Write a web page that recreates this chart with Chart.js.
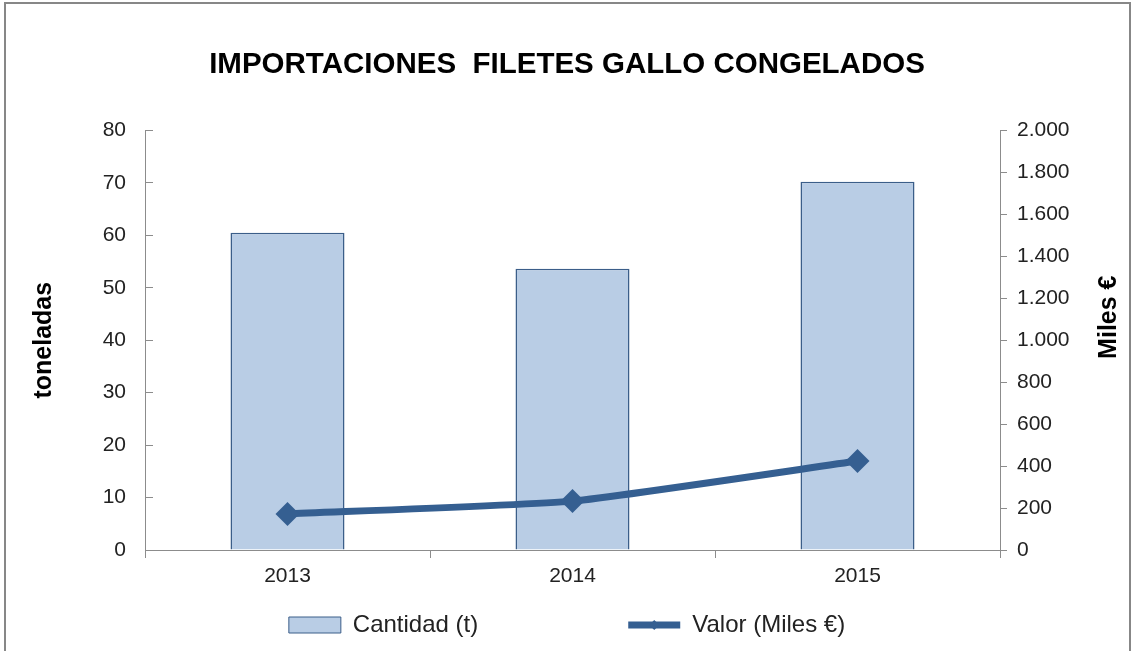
<!DOCTYPE html>
<html>
<head>
<meta charset="utf-8">
<script src="https://cdn.jsdelivr.net/npm/chart.js@4"></script>
<style>
  html, body { margin: 0; padding: 0; background: #fff; }
  #wrap { width: 1134px; height: 651px; position: relative; }
</style>
</head>
<body>
<div id="wrap"><canvas id="chart"></canvas></div>
<script>
// data
const years = ['2013', '2014', '2015'];
const cantidad = [60.5, 53.6, 70.2];      // toneladas
const valor = [172, 233, 424];            // miles €

Chart.defaults.font.family = "'Liberation Sans', Arial, sans-serif";
Chart.defaults.color = '#222';

const axisColor = '#8c8c8c';
const lineColor = '#355f91';

// frame around the chart object
const framePlugin = {
  id: 'frame',
  beforeDraw(chart) {
    const ctx = chart.ctx;
    ctx.save();
    ctx.fillStyle = '#fff';
    ctx.fillRect(0, 0, chart.width, chart.height);
    ctx.strokeStyle = '#878787';
    ctx.lineWidth = 2;
    ctx.strokeRect(5, 3, 1125, 660);
    ctx.restore();
  },
};

// legend uses a wide padding for the gap between items; keep its layout box
// short and pull its top up so the row lands at the bottom of the canvas
const legendPlace = {
  id: 'legendPlace',
  afterLayout(chart) {
    chart.legend.top -= 142;
  },
  afterDraw(chart) {
    // diamond marker on the line legend entry
    const hb = chart.legend.legendHitBoxes[1];
    if (!hb) return;
    const cx = hb.left + 26;
    const cy = hb.top + hb.height / 2;
    const r = 5;
    const ctx = chart.ctx;
    ctx.save();
    ctx.fillStyle = lineColor;
    ctx.beginPath();
    ctx.moveTo(cx, cy - r);
    ctx.lineTo(cx + r, cy);
    ctx.lineTo(cx, cy + r);
    ctx.lineTo(cx - r, cy);
    ctx.closePath();
    ctx.fill();
    ctx.restore();
  },
};

// right axis title reads bottom-to-top like the left one
const rightTitle = {
  id: 'rightTitle',
  afterDraw(chart) {
    const s = chart.scales.y1;
    const ctx = chart.ctx;
    ctx.save();
    ctx.translate(s.right - 25, (s.top + s.bottom) / 2 - 23);
    ctx.rotate(-Math.PI / 2);
    ctx.fillStyle = '#000';
    ctx.font = "bold 25px 'Liberation Sans', Arial, sans-serif";
    ctx.textAlign = 'center';
    ctx.textBaseline = 'middle';
    ctx.fillText('Miles €', 0, 0);
    ctx.restore();
  },
};

new Chart(document.getElementById('chart'), {
  type: 'bar',
  data: {
    labels: years,
    datasets: [
      {
        type: 'bar',
        label: 'Cantidad (t)',
        data: cantidad,
        yAxisID: 'y',
        backgroundColor: '#b9cde5',
        borderColor: '#3b5e89',
        borderWidth: 1.5,
        barPercentage: 0.4,
        categoryPercentage: 1,
        order: 2,
      },
      {
        type: 'line',
        label: 'Valor (Miles €)',
        data: valor,
        yAxisID: 'y1',
        borderColor: lineColor,
        backgroundColor: lineColor,
        borderWidth: 7,
        pointStyle: 'rectRot',
        pointRadius: 12,
        pointHoverRadius: 12,
        pointBackgroundColor: lineColor,
        pointBorderWidth: 0,
        tension: 0.15,
        order: 1,
      },
    ],
  },
  options: {
    responsive: true,
    maintainAspectRatio: false,
    animation: false,
    layout: { padding: { left: 0, right: 0, top: 0, bottom: 6 } },
    plugins: {
      title: {
        display: true,
        text: 'IMPORTACIONES  FILETES GALLO CONGELADOS',
        color: '#000',
        font: { size: 29.5, weight: 'bold' },
        padding: { top: 47, bottom: 48 },
      },
      legend: {
        position: 'bottom',
        maxHeight: 40,
        labels: {
          usePointStyle: true,
          pointStyleWidth: 52,
          boxHeight: 16,
          padding: 150,
          color: '#222',
          font: { size: 24 },
          sort: (a, b) => a.datasetIndex - b.datasetIndex,
          generateLabels(chart) {
            const items = Chart.defaults.plugins.legend.labels.generateLabels(chart);
            return items.map((it) => {
              if (it.datasetIndex === 0) {
                it.pointStyle = 'rect';
                it.lineWidth = 1;
              } else {
                it.pointStyle = 'line';
                it.lineWidth = 7;
                it.strokeStyle = lineColor;
              }
              return it;
            });
          },
        },
      },
      tooltip: { enabled: false },
    },
    scales: {
      x: {
        offset: true,
        grid: {
          offset: true,
          drawOnChartArea: false,
          tickLength: 8,
          color: axisColor,
        },
        border: { color: axisColor },
        ticks: { font: { size: 21 }, color: '#222', padding: 6 },
        afterFit(scale) { scale.height = 55; },
      },
      y: {
        position: 'left',
        min: 0,
        max: 80,
        ticks: { stepSize: 10, font: { size: 21 }, color: '#222', padding: 27 },
        grid: { drawOnChartArea: false, tickLength: -8, color: axisColor },
        border: { color: axisColor },
        title: {
          display: true,
          text: 'toneladas',
          color: '#000',
          font: { size: 25, weight: 'bold' },
          padding: { top: 29, bottom: 0 },
        },
        afterFit(scale) { scale.width = 145; },
      },
      y1: {
        position: 'right',
        min: 0,
        max: 2000,
        ticks: {
          stepSize: 200,
          font: { size: 21 },
          color: '#222',
          padding: 10,
          callback: (v) => String(v).replace(/\B(?=(\d{3})+(?!\d))/g, '.'),
        },
        grid: { drawOnChartArea: false, tickLength: 7, color: axisColor },
        border: { color: axisColor },
        afterFit(scale) { scale.width = 134; },
      },
    },
  },
  plugins: [framePlugin, legendPlace, rightTitle],
});
</script>
</body>
</html>
